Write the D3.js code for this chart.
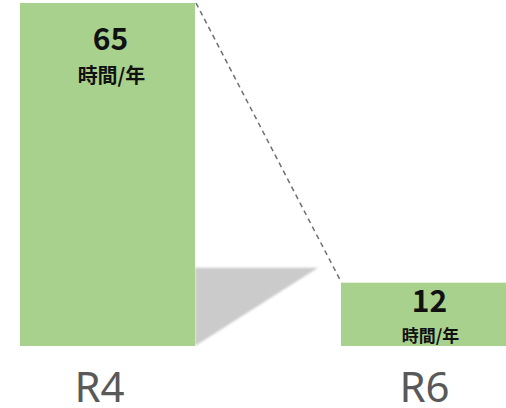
<!DOCTYPE html>
<html>
<head>
<meta charset="utf-8">
<script src="https://cdn.jsdelivr.net/npm/d3@7"></script>
<style>
  body { margin: 0; background: #fff; }
</style>
</head>
<body>
<div id="chart"></div>
<script>
    // data
    const years = ["R4", "R6"];
    const hours = [65, 12];
    const unitLabel = "時間/年";

    const width = 506, height = 408;

    const svg = d3.select("#chart").append("svg")
        .attr("width", width)
        .attr("height", height);

    const x = d3.scaleBand()
        .domain(years)
        .range([20, 516])
        .paddingInner(0.4548)
        .paddingOuter(0);

    const y = d3.scaleLinear()
        .domain([0, 65])
        .range([346, 3]);

    const x0 = x(years[0]) + x.bandwidth();
    const x1 = x(years[1]);

    // shadow under the drop
    const defs = svg.append("defs");
    defs.append("filter").attr("id", "blur")
        .append("feGaussianBlur").attr("stdDeviation", 1.2);

    const shTop = y(hours[1]) - 15;
    svg.append("polygon")
        .attr("points", [[x0, shTop], [x1 - 23, shTop], [x0, y(0)]].map(p => p.join(",")).join(" "))
        .attr("fill", "#cbcbcb")
        .attr("filter", "url(#blur)");

    // bars
    svg.selectAll(".bar")
        .data(years)
        .enter()
        .append("rect")
        .attr("class", "bar")
        .attr("x", d => x(d))
        .attr("y", (d, i) => y(hours[i]))
        .attr("width", x.bandwidth())
        .attr("height", (d, i) => y(0) - y(hours[i]))
        .attr("fill", "#a9d18e");

    // dashed connector
    svg.append("line")
        .attr("x1", x0 + 1).attr("y1", y(hours[0]))
        .attr("x2", x1).attr("y2", y(hours[1]) - 1)
        .attr("stroke", "#6f6f6f")
        .attr("stroke-width", 1.5)
        .attr("stroke-dasharray", "5,4");

    // label layout per bar: offsets from bar top
    const lab = [
        { dx: 3, num: 47, sub: 80, subSize: 20 },
        { dx: 1, num: 29, sub: 59, subSize: 17 }
    ];

    const g = svg.selectAll(".lbl")
        .data(years)
        .enter()
        .append("g")
        .attr("class", "lbl");

    g.append("text")
        .attr("x", (d, i) => x(d) + x.bandwidth() / 2 + lab[i].dx)
        .attr("y", (d, i) => y(hours[i]) + lab[i].num)
        .attr("text-anchor", "middle")
        .attr("font-family", "'Noto Sans CJK JP', 'Noto Sans', sans-serif")
        .attr("font-weight", "bold")
        .attr("font-size", "30px")
        .attr("fill", "#111")
        .text((d, i) => hours[i]);

    g.append("text")
        .attr("x", (d, i) => x(d) + x.bandwidth() / 2 + lab[i].dx + 1)
        .attr("y", (d, i) => y(hours[i]) + lab[i].sub)
        .attr("text-anchor", "middle")
        .attr("font-family", "'Noto Sans CJK JP', sans-serif")
        .attr("font-weight", "bold")
        .attr("font-size", (d, i) => lab[i].subSize + "px")
        .attr("fill", "#111")
        .text(unitLabel);

    // category axis
    const xAxis = d3.axisBottom(x).tickSize(0).tickPadding(0);
    const ax = svg.append("g")
        .attr("transform", "translate(0,367)")
        .call(xAxis);
    ax.select(".domain").remove();
    ax.selectAll("text")
        .attr("dy", null)
        .attr("y", 35)
        .attr("dx", (d, i) => i === 0 ? -8 : -4)
        .attr("font-family", "'Noto Sans', sans-serif")
        .attr("font-size", "42px")
        .attr("fill", "#595959");
</script>
</body>
</html>
